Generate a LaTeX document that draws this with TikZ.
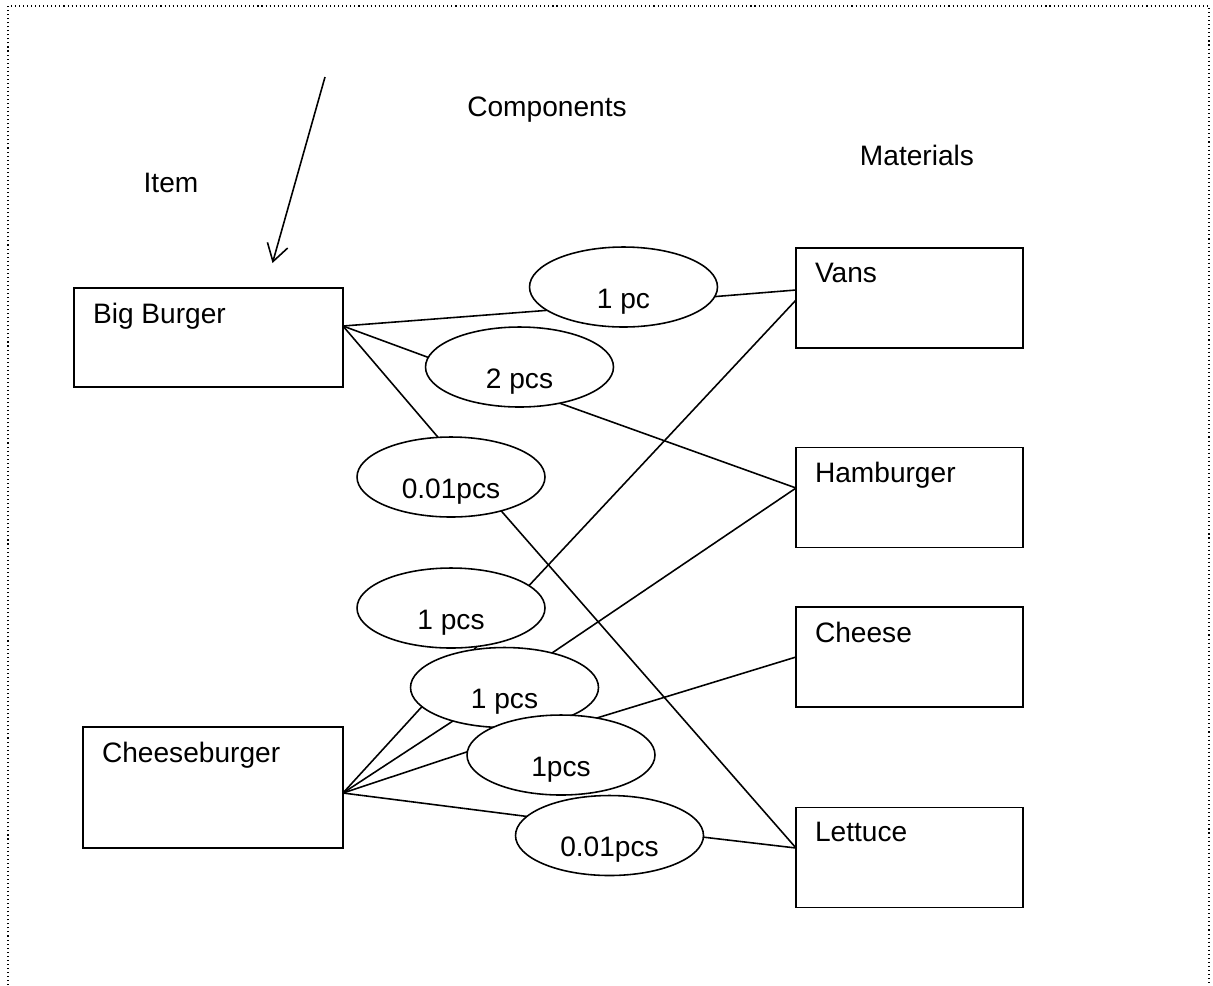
\documentclass[tikz,border=0pt]{standalone}
\usepackage{fontspec}
\setmainfont{Liberation Sans}
\usepackage{tikz}
\usetikzlibrary{shapes.geometric, backgrounds}
\usetikzlibrary{arrows.meta}
\tikzset{>={Straight Barb[length=0.34cm,width=0.42cm]}}

\begin{document}
\begin{tikzpicture}[
    x = 0.02cm, y = -0.02cm,
    every node/.style = {font=\fontsize{16}{19}\selectfont,
        inner sep=0pt, outer sep=0pt},
    link/.style = {line width=0.9pt},
    box/.style = {draw, line width=1.1pt, fill=white},
    boxtext/.style = {anchor=north west, xshift=0.38cm, yshift=-0.3cm},
    amount/.style = {draw, ellipse, line width=0.9pt, fill=white,
        minimum width=3.76cm, minimum height=1.6cm},
    amounttext/.style = {yshift=-0.29cm}
  ]
  \useasboundingbox (0,0) rectangle (1213,985);
  \draw[line width=0.6pt, dash pattern=on 0.6pt off 1.7pt]
    (8,985) -- (8,6) -- (1209,6) -- (1209,985);

  \node (item) at (171,182.5) {Item};
  \node (comp) at (547,110) {Components};
  \node (mat) at (917,155) {Materials};

  \node[box, minimum width=5.38cm, minimum height=1.98cm,
    label={[boxtext]north west:Big Burger}] (big) at (208.5,337.5) {};
  \node[box, minimum width=5.2cm, minimum height=2.42cm,
    label={[boxtext]north west:Cheeseburger}] (cheb) at (213,787.5) {};
  \foreach \name/\txt/\y in {vans/Vans/298, ham/Hamburger/497.5,
      chs/Cheese/657, lett/Lettuce/857.5}
    \node[box, minimum width=4.54cm, minimum height=2cm,
      label={[boxtext]north west:\txt}] (\name) at (909.5,\y) {};

  \foreach \name/\txt/\x/\y in {q1/1 pc/623.5/287, q2/2 pcs/519.5/367,
      q3/0.01pcs/451/477, q4/1 pcs/451/608, q5/1 pcs/504.5/687.5,
      q6/1pcs/561/755, q7/0.01pcs/609.5/835.5}
    \node[amount, label={[amounttext]center:\txt}] (\name) at (\x,\y) {};

  \coordinate (bigout) at ([yshift=0.23cm]big.east);
  \coordinate (chebout) at ([yshift=-0.11cm]cheb.east);
  \coordinate (arrstart) at (325,77);
  \coordinate (arrend) at (272.5,263);

  \begin{scope}[on background layer]
    \draw[link] (bigout) -- (q1.197);
    \draw[link] (q1.354) -- ([yshift=0.16cm]vans.west);
    \draw[link] (bigout) -- (q2.174);
    \draw[link] (q2.318) -- ([yshift=0.19cm]ham.west);
    \draw[link] (bigout) -- (q3.108);
    \draw[link] (q3.326) -- ([yshift=0.19cm]lett.west);

    \draw[link] (chebout) -- (q4.304);
    \draw[link] (q4.16) -- ([yshift=-0.04cm]vans.west);
    \draw[link] (chebout) -- (q5.213);
    \draw[link] (q5.36) -- ([yshift=0.19cm]ham.west);
    \draw[link] (chebout) -- (q6.178);
    \draw[link] (q6.46) -- (chs.west);
    \draw[link] (chebout) -- (q7.167);
    \draw[link] (q7.359) -- ([yshift=0.19cm]lett.west);
  \end{scope}

  \draw[link, ->] (arrstart) -- (arrend);
\end{tikzpicture}
\end{document}
